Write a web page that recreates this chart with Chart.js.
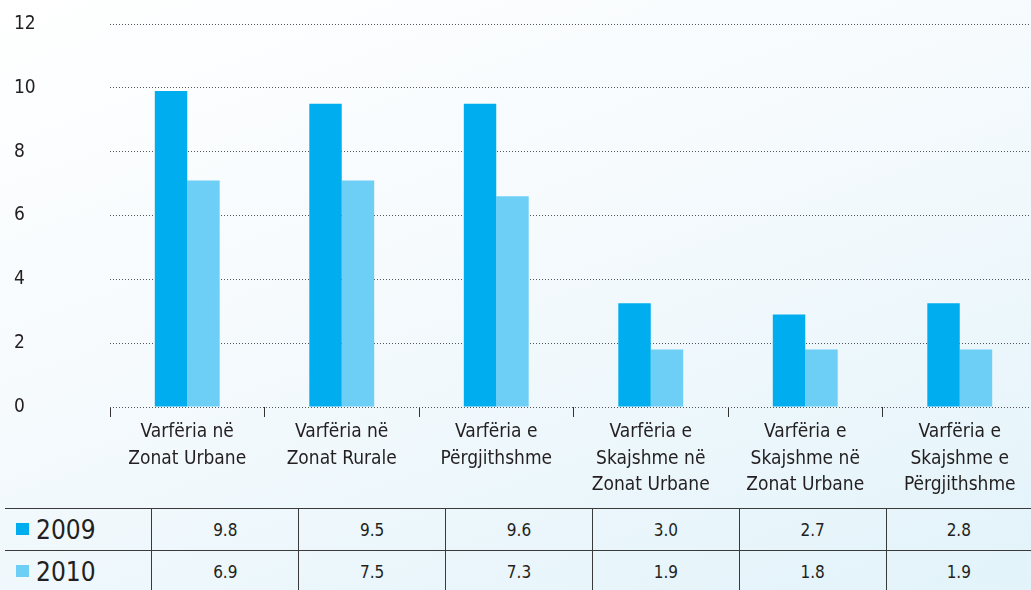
<!DOCTYPE html>
<html><head><meta charset="utf-8">
<script src="https://cdn.jsdelivr.net/npm/chart.js@4"></script>
<style>
html,body{margin:0;padding:0;width:1031px;height:590px;overflow:hidden;}
body{position:relative;background:linear-gradient(160deg,#ffffff 0%,#f5fafd 45%,#e2f3fa 100%);font-family:'Liberation Sans Narrow','DejaVu Sans Condensed','Roboto Condensed',sans-serif;color:#231f20;}
#c{position:absolute;left:0;top:0;}
#tbl{position:absolute;left:5px;top:508px;border-collapse:collapse;table-layout:fixed;}
#tbl td{border-top:1px solid #3a3a3a;border-left:1px solid #3a3a3a;padding:0;text-align:center;font-size:17px;height:41px;vertical-align:middle;}
#tbl td.lab{border-left:none;text-align:left;font-size:26px;padding-left:11px;}
.sw{display:inline-block;width:13px;height:12px;margin-right:7px;vertical-align:4px;}
</style></head>
<body>
<canvas id="c" width="1040" height="508"></canvas>
<table id="tbl"></table>
<script>
const categories = [
  ["Varfëria në","Zonat Urbane"],
  ["Varfëria në","Zonat Rurale"],
  ["Varfëria e","Përgjithshme"],
  ["Varfëria e","Skajshme në","Zonat Urbane"],
  ["Varfëria e","Skajshme në","Zonat Urbane"],
  ["Varfëria e","Skajshme e","Përgjithshme"]
];
const seriesNames = ["2009","2010"];
const bars2009 = [9.9, 9.5, 9.5, 3.25, 2.9, 3.25];
const bars2010 = [7.1, 7.1, 6.6, 1.8, 1.8, 1.8];
const table2009 = ["9.8","9.5","9.6","3.0","2.7","2.8"];
const table2010 = ["6.9","7.5","7.3","1.9","1.8","1.9"];
const yMin = 0, yMax = 12, yStep = 2;
const colors = ["#00aeef","#6dcff6"];

const FONT = "'Liberation Sans Narrow','DejaVu Sans Condensed','Roboto Condensed',sans-serif";

// table
const tbl = document.getElementById('tbl');
const colW = [147,147,147,147,147,147,145];
const cg = document.createElement('colgroup');
colW.forEach(w=>{const c=document.createElement('col');c.style.width=w+'px';cg.appendChild(c);});
tbl.appendChild(cg);
[[seriesNames[0],table2009,colors[0]],[seriesNames[1],table2010,colors[1]]].forEach(([name,vals,col])=>{
  const tr=document.createElement('tr');
  const th=document.createElement('td');th.className='lab';
  const sw=document.createElement('span');sw.className='sw';sw.style.background=col;
  th.appendChild(sw);th.appendChild(document.createTextNode(name));
  tr.appendChild(th);
  vals.forEach(v=>{const td=document.createElement('td');td.textContent=v;tr.appendChild(td);});
  tbl.appendChild(tr);
});

new Chart(document.getElementById('c'), {
  type:'bar',
  data:{
    labels:categories,
    datasets:[
      {label:seriesNames[0],data:bars2009,backgroundColor:colors[0],borderWidth:0},
      {label:seriesNames[1],data:bars2010,backgroundColor:colors[1],borderWidth:0}
    ]
  },
  options:{
    responsive:false,
    devicePixelRatio:1,
    animation:false,
    categoryPercentage:0.42,
    barPercentage:1,
    layout:{padding:{top:24,left:14,right:3,bottom:0}},
    plugins:{legend:{display:false},tooltip:{enabled:false}},
    scales:{
      x:{
        grid:{display:true,drawOnChartArea:false,drawTicks:true,tickLength:10,color:'#333',lineWidth:1,offset:true},
        border:{display:false},
        ticks:{font:{family:FONT,size:19,lineHeight:1.4},color:'#231f20',padding:2,maxRotation:0,autoSkip:false},
        afterFit:s=>{s.height=101;}
      },
      y:{
        min:yMin,max:yMax,
        ticks:{stepSize:yStep,crossAlign:'far',font:{family:FONT,size:19},color:'#231f20',padding:0},
        grid:{color:'#555',lineWidth:1,drawTicks:false,tickLength:0},
        border:{display:false,dash:[1,2]},
        afterFit:s=>{s.width=96;}
      }
    }
  }
});
</script>
</body></html>
